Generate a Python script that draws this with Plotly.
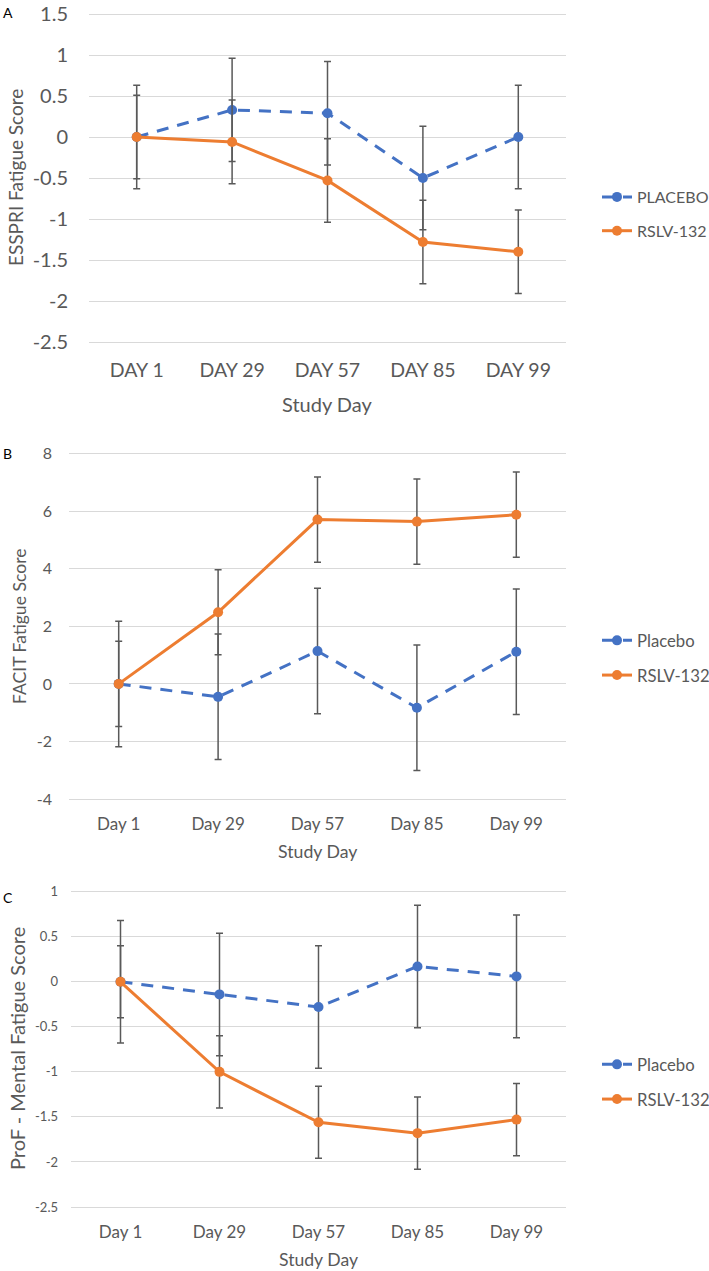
import plotly.graph_objects as go

# ---------------- data ----------------
days_upper = ["DAY 1", "DAY 29", "DAY 57", "DAY 85", "DAY 99"]
days = ["Day 1", "Day 29", "Day 57", "Day 85", "Day 99"]

esspri_placebo = [0.00, 0.33, 0.29, -0.50, 0.00]
esspri_placebo_err = [0.63, 0.63, 0.63, 0.63, 0.63]
esspri_rslv = [0.00, -0.06, -0.53, -1.28, -1.40]
esspri_rslv_err = [0.51, 0.51, 0.51, 0.51, 0.51]
esspri_ticks = [-2.5, -2, -1.5, -1, -0.5, 0, 0.5, 1, 1.5]
esspri_ticklabels = ["-2.5", "-2", "-1.5", "-1", "-0.5", "0", "0.5", "1", "1.5"]

facit_placebo = [0.00, -0.45, 1.14, -0.83, 1.12]
facit_placebo_err = [2.18, 2.18, 2.18, 2.18, 2.18]
facit_rslv = [0.00, 2.49, 5.71, 5.64, 5.88]
facit_rslv_err = [1.48, 1.48, 1.48, 1.48, 1.48]
facit_ticks = [-4, -2, 0, 2, 4, 6, 8]
facit_ticklabels = ["-4", "-2", "0", "2", "4", "6", "8"]

prof_placebo = [0.00, -0.14, -0.28, 0.17, 0.06]
prof_placebo_err = [0.68, 0.68, 0.68, 0.68, 0.68]
prof_rslv = [0.00, -1.00, -1.56, -1.68, -1.53]
prof_rslv_err = [0.40, 0.40, 0.40, 0.40, 0.40]
prof_ticks = [-2.5, -2, -1.5, -1, -0.5, 0, 0.5, 1]
prof_ticklabels = ["-2.5", "-2", "-1.5", "-1", "-0.5", "0", "0.5", "1"]

# ---------------- style ----------------
W, H = 709, 1271
FONT = "Lato"
TXT = "#595959"
GRID = "#D9D9D9"
BLUE = "#4472C4"
ORANGE = "#ED7D31"
ERR = "#595959"


def xd(l, r):
    return [l / W, r / W]


fig = go.Figure()


def add_pair(x, pl, pl_err, rs, rs_err, pl_name, axis_suffix, legend_name):
    xa = "x" + axis_suffix
    ya = "y" + axis_suffix
    fig.add_trace(go.Scatter(
        x=x, y=pl, name=pl_name, mode="lines+markers",
        line=dict(color=BLUE, width=3, dash="12px,9px"),
        marker=dict(color=BLUE, size=10),
        error_y=dict(type="data", array=pl_err, visible=True, color=ERR,
                     thickness=1.5, width=3.5),
        xaxis=xa, yaxis=ya, legend=legend_name, legendgroup=legend_name + "a",
    ))
    fig.add_trace(go.Scatter(
        x=x, y=rs, name="RSLV-132", mode="lines+markers",
        line=dict(color=ORANGE, width=3),
        marker=dict(color=ORANGE, size=10),
        error_y=dict(type="data", array=rs_err, visible=True, color=ERR,
                     thickness=1.5, width=3.5),
        xaxis=xa, yaxis=ya, legend=legend_name, legendgroup=legend_name + "b",
    ))


add_pair(days_upper, esspri_placebo, esspri_placebo_err, esspri_rslv, esspri_rslv_err,
         "PLACEBO", "", "legend")
add_pair(days, facit_placebo, facit_placebo_err, facit_rslv, facit_rslv_err,
         "Placebo", "2", "legend2")
add_pair(days, prof_placebo, prof_placebo_err, prof_rslv, prof_rslv_err,
         "Placebo", "3", "legend3")


def xaxis(dom, anchor, size, standoff):
    return dict(domain=dom, anchor=anchor, type="category", range=[-0.5, 4.5],
                showgrid=False, showline=False, zeroline=False, ticks="",
                automargin=False,
                tickfont=dict(family=FONT, size=size, color=TXT),
                ticklabelstandoff=standoff, fixedrange=True)


def yaxis(top, bottom, anchor, rng, tv, tt, size, standoff, pad=3):
    # pad the plot area a few pixels so first/last gridlines are drawn
    ppu = (bottom - top) / (rng[1] - rng[0])
    eps = pad / ppu
    dom = [1 - (bottom + pad) / H, 1 - (top - pad) / H]
    return dict(domain=dom, anchor=anchor, range=[rng[0] - eps, rng[1] + eps],
                tickmode="array", tickvals=tv, ticktext=tt, showgrid=True,
                gridcolor=GRID, gridwidth=1, zeroline=False, showline=False,
                ticks="", automargin=False,
                tickfont=dict(family=FONT, size=size, color=TXT),
                ticklabelstandoff=standoff, fixedrange=True)


fig.update_layout(
    width=W, height=H,
    margin=dict(l=0, r=0, t=0, b=0, autoexpand=False),
    paper_bgcolor="white", plot_bgcolor="white",
    font=dict(family=FONT, color=TXT),
    showlegend=True,
    xaxis=xaxis(xd(89, 566), "y", 19.5, 11),
    yaxis=yaxis(14, 342, "x", [-2.5, 1.5], esspri_ticks, esspri_ticklabels, 20, 20),
    xaxis2=xaxis(xd(69, 566), "y2", 17, 10),
    yaxis2=yaxis(453.7, 799, "x2", [-4, 8], facit_ticks, facit_ticklabels, 16, 16),
    xaxis3=xaxis(xd(71, 566), "y3", 17, 10),
    yaxis3=yaxis(891.7, 1207, "x3", [-2.5, 1], prof_ticks, prof_ticklabels, 13, 12),
)

leg_common = dict(xanchor="left", yanchor="middle", bgcolor="rgba(0,0,0,0)",
                  traceorder="grouped", tracegroupgap=10, itemclick=False,
                  itemdoubleclick=False)
fig.update_layout(
    legend=dict(x=597 / W, y=1 - 214 / H, font=dict(family=FONT, size=16, color=TXT), **leg_common),
    legend2=dict(x=597 / W, y=1 - 658 / H, font=dict(family=FONT, size=16.7, color=TXT), **leg_common),
    legend3=dict(x=597 / W, y=1 - 1082 / H, font=dict(family=FONT, size=16.7, color=TXT), **leg_common),
)

ann = []
# panel letters
for letter, y in [("A", 12.5), ("B", 453.5), ("C", 897.5)]:
    ann.append(dict(text=letter, x=1 / W, y=1 - y / H, xref="paper", yref="paper",
                    xanchor="left", yanchor="middle", showarrow=False,
                    font=dict(family=FONT, size=14, color="black")))
# y titles
for txt, x, y, size in [("ESSPRI Fatigue Score", 16, 178, 19),
                        ("FACIT Fatigue Score", 19, 626, 17.6),
                        ("ProF - Mental Fatigue Score", 17, 1049, 20)]:
    ann.append(dict(text=txt, x=x / W, y=1 - y / H, xref="paper", yref="paper",
                    xanchor="center", yanchor="middle", textangle=-90, showarrow=False,
                    font=dict(family=FONT, size=size, color=TXT)))
# x titles
for x, y, size in [(327.5, 404, 20), (317.5, 852, 17.7), (318.5, 1259, 17.6)]:
    ann.append(dict(text="Study Day", x=x / W, y=1 - y / H, xref="paper", yref="paper",
                    xanchor="center", yanchor="middle", showarrow=False,
                    font=dict(family=FONT, size=size, color=TXT)))
fig.update_layout(annotations=ann)

fig.write_html("out.html", config={"displayModeBar": False},
               post_script="document.body.style.margin='0px';")
